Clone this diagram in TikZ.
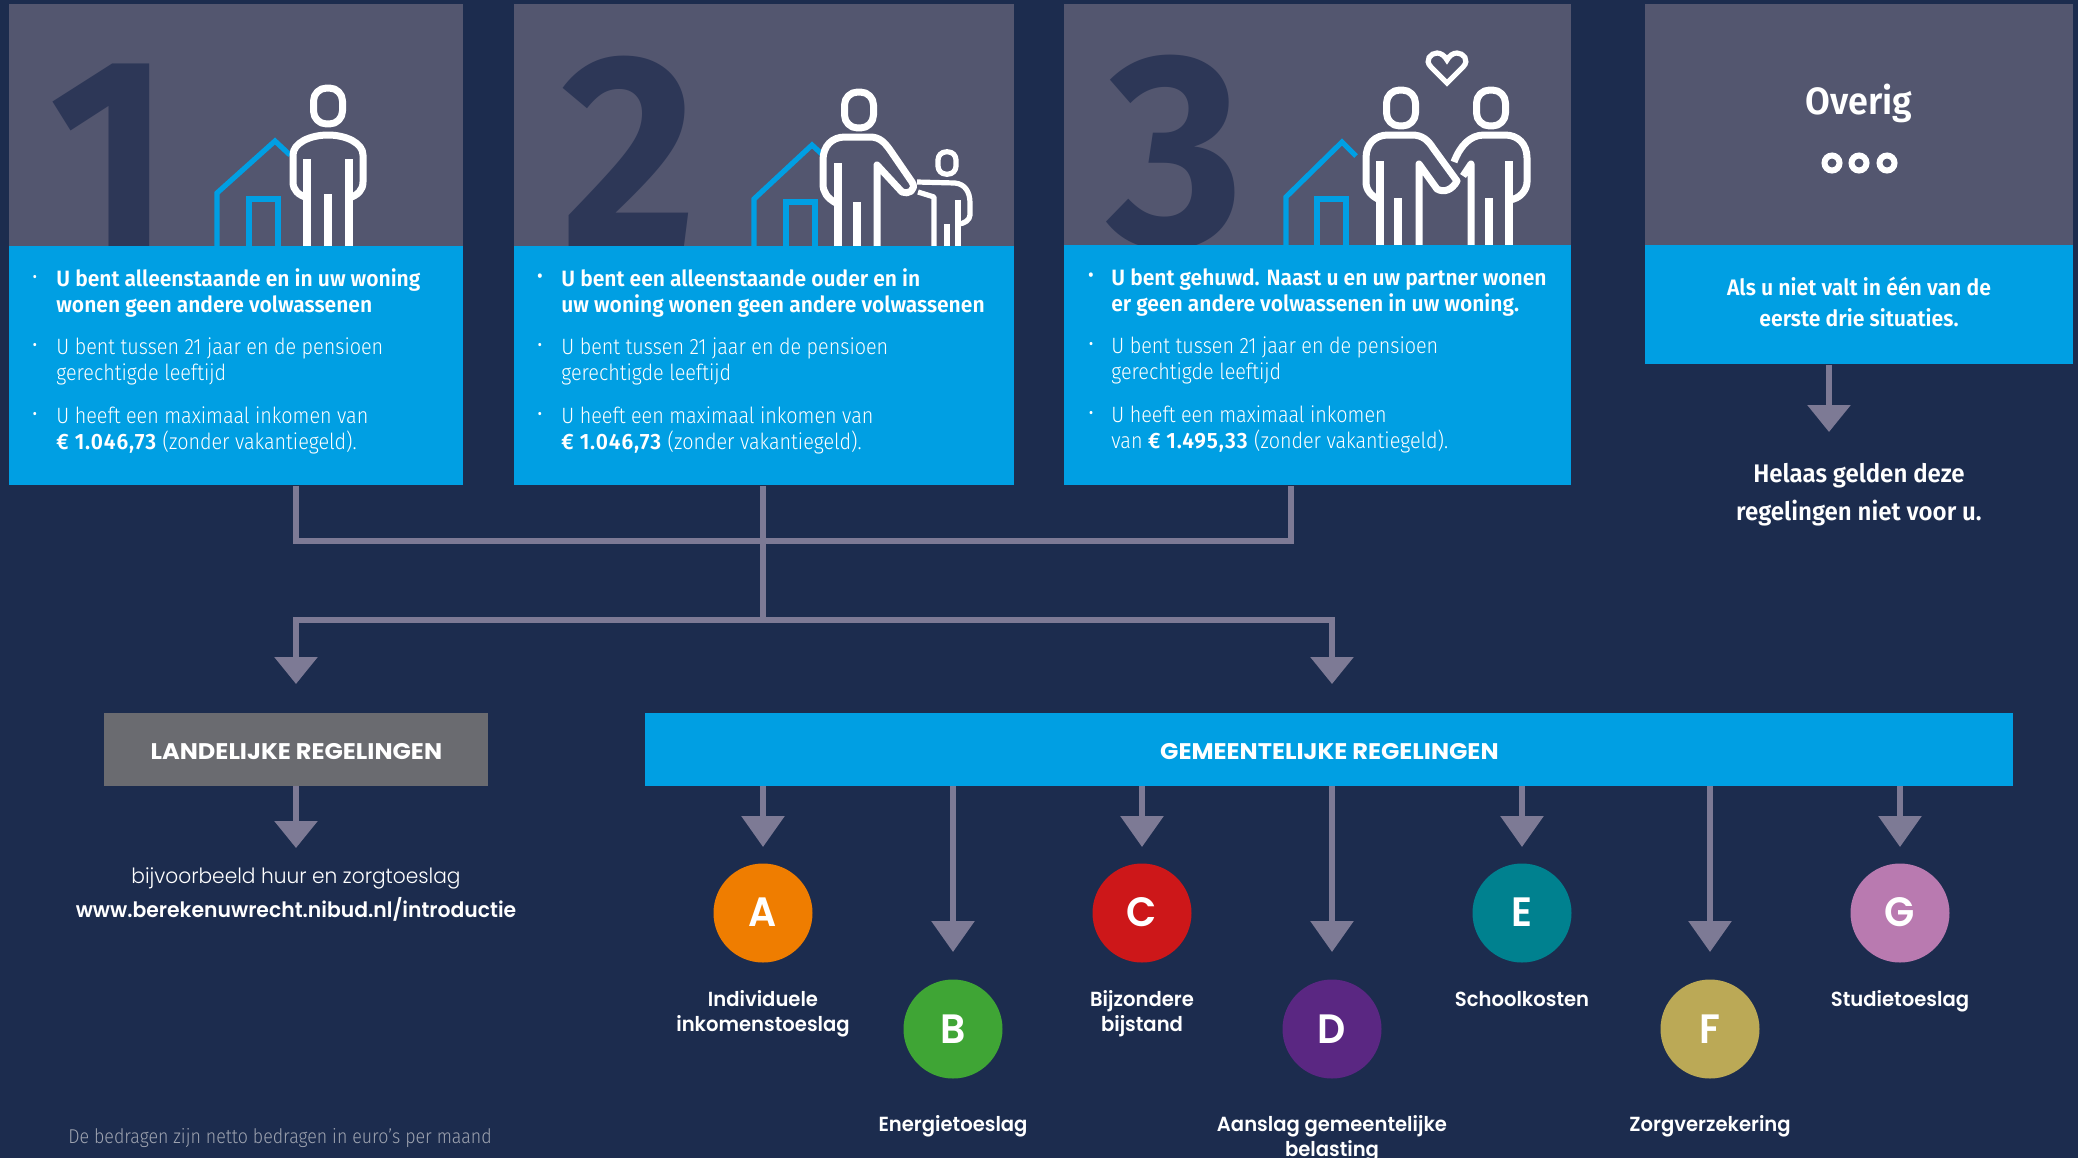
\documentclass[tikz,border=0pt]{standalone}
\usepackage{fontspec}
\usetikzlibrary{arrows.meta}
\setmainfont{Fira Sans Light}[FakeStretch=0.89,BoldFont={Fira Sans SemiBold},BoldFeatures={FakeStretch=0.947}]
\newfontfamily\digitf{Fira Sans Bold}[FakeStretch=0.95]
\newfontfamily\headf{Poppins}[FakeStretch=1.065]
\newfontfamily\labf{Poppins SemiBold}[FakeStretch=0.96]
\newfontfamily\litef{Poppins Light}[FakeStretch=0.96]
\newcommand\amt[1]{\textbf{\addfontfeature{LetterSpace=4}#1}}
\definecolor{bgc}{HTML}{1C2C4E}
\definecolor{panelc}{HTML}{53566F}
\definecolor{digitc}{HTML}{2D3757}
\definecolor{bluec}{HTML}{009FE3}
\definecolor{arrc}{HTML}{7D7A95}
\definecolor{greyc}{HTML}{6A6B70}
\definecolor{housec}{HTML}{009FE3}
\definecolor{notec}{HTML}{9EA3B0}
\tikzset{
 panel/.style={fill=panelc,draw=none,inner sep=0pt,anchor=north west},
 body/.style={fill=bluec,draw=none,inner sep=0pt,anchor=north west},
 digit/.style={text=digitc,anchor=base west,inner sep=0pt,font=\digitf\fontsize{138}{138}\selectfont},
 txt/.style={text=white,inner sep=0pt,anchor=base west,align=left,font=\fontsize{11.1}{13}\selectfont},
 dot/.style={text=white,inner sep=0pt,anchor=base,font=\fontsize{10.8}{13}\selectfont},
 bigdot/.style={text=white,inner sep=0pt,anchor=base,font=\fontsize{15}{13}\selectfont},
 house/.style={draw=housec,line width=2.6pt,line join=miter},
 man/.style={draw=white,line width=3.5pt,line join=round},
 kid/.style={draw=white,line width=2.6pt,line join=round},
 bar/.style={draw=white,line width=3.6pt},
 conn/.style={draw=arrc,line width=3pt},
 arr/.style={draw=arrc,line width=3pt,-{Triangle[length=15.5pt,width=21pt,fill=arrc]}},
 arrb/.style={draw=arrc,line width=3pt,-{Triangle[length=13.5pt,width=21pt,fill=arrc]}},
 boxhead/.style={text=white,inner sep=0pt,font=\headf\bfseries\fontsize{11.3}{13}\selectfont},
 badge/.style={circle,minimum size=49.5pt,inner sep=0pt},
 letter/.style={text=white,inner sep=0pt,anchor=base,font=\labf\fontsize{20.5}{22}\selectfont},
 lab/.style={text=white,inner sep=0pt,anchor=base,align=center,font=\labf\fontsize{10.2}{12.5}\selectfont},
}
\newcommand\headshape[4]{\draw[#4,rounded corners=#3*0.45pt] ({#1-#3},{#2-#3*1.24}) rectangle ({#1+#3},{#2+#3*1.24});}
\begin{document}
\begin{tikzpicture}[x=0.5pt,y=-0.5pt]
\useasboundingbox (0,0) rectangle (2078,1158);
\fill[bgc] (0,0) rectangle (2078,1158);
% grey panels
\node[panel,minimum width=227pt,minimum height=121pt] (g1) at (9,4) {};
\node[panel,minimum width=250pt,minimum height=121pt] (g2) at (514,4) {};
\node[panel,minimum width=253.5pt,minimum height=120.5pt] (g3) at (1064,4) {};
\node[panel,minimum width=214pt,minimum height=120.5pt] (g4) at (1645,4) {};
% digits
\node[digit] (d1) at (49,250) {1};
\node[digit] (d2) at (561,246) {2};
\node[digit] (d3) at (1107,245) {3};
% icon 1
\draw[house] (217,250) -- (217,193) -- (275,141) -- (290,155);
\draw[house] (249,250) -- (249,199) -- (278,199) -- (278,250);
\headshape{328}{106}{14.5}{man}
\draw[man] (308,198) .. controls (298,195) and (293,190) .. (293,182) -- (293,155) .. controls (293,143) and (310,135) .. (328,135) .. controls (346,135) and (363,143) .. (363,155) -- (363,182) .. controls (363,190) and (358,195) .. (349,198);
\draw[bar] (307,159) -- (307,250);
\draw[bar] (349,159) -- (349,250);
\draw[bar,line width=4pt] (328,194) -- (328,250);
% icon 2
\draw[house] (754,250) -- (754,199) -- (812,145) -- (825,157);
\draw[house] (786,250) -- (786,202) -- (815,202) -- (815,250);
\headshape{859}{110}{14.5}{man}
\draw[man] (836,203) .. controls (827,198) and (823,192) .. (823,184) -- (823,160) .. controls (823,146) and (832,137) .. (845,137) -- (870,137) .. controls (880,137) and (885,143) .. (890,150) -- (912,182) .. controls (917,190) and (908,195) .. (902,192) -- (877,165) -- (877,250);
\draw[bar] (838,163) -- (838,250);
\draw[bar,line width=4pt] (857,202) -- (857,250);
\headshape{947}{163}{9}{kid}
\draw[kid] (917,182) -- (955,183) .. controls (965,184) and (970,192) .. (970,203) -- (970,215) .. controls (970,220) and (964,224) .. (958,224);
\draw[kid] (918,192) -- (934,197) -- (934,250);
\draw[kid] (958,200) -- (958,250);
\draw[kid,line width=3pt] (947,224) -- (947,250);
% icon 3
\draw[house] (1286,250) -- (1286,197) -- (1342,142) -- (1356,156);
\draw[house] (1317,250) -- (1317,199) -- (1346,199) -- (1346,250);
\headshape{1401}{108}{14.5}{man}
\headshape{1491}{108}{14.5}{man}
\draw[man] (1380,200) .. controls (1371,196) and (1366,190) .. (1366,182) -- (1366,158) .. controls (1366,144) and (1375,135) .. (1388,135) -- (1412,135) .. controls (1422,135) and (1428,140) .. (1433,148) -- (1457,181) .. controls (1452,190) and (1444,193) .. (1437,189) -- (1419,164) -- (1419,250);
\draw[bar] (1380,161) -- (1380,250);
\draw[bar,line width=4pt] (1398,198) -- (1398,250);
\draw[man] (1454,162) .. controls (1460,146) and (1470,135) .. (1484,135) -- (1505,135) .. controls (1518,135) and (1527,144) .. (1527,158) -- (1527,182) .. controls (1527,190) and (1520,199) .. (1509,200);
\draw[man] (1463,176) -- (1471,164) -- (1471,250);
\draw[bar] (1509,161) -- (1509,250);
\draw[bar,line width=4pt] (1489,198) -- (1489,250);
\draw[man,line width=2.6pt,line join=miter] (1447,83) -- (1431,67) .. controls (1424,60) and (1431,53) .. (1437,53) .. controls (1441,53) and (1445,56) .. (1447,60) .. controls (1449,56) and (1453,53) .. (1457,53) .. controls (1463,53) and (1470,60) .. (1463,67) -- cycle;
% blue panels
\node[body,minimum width=227pt,minimum height=119.5pt] (b1) at (9,246) {};
\node[body,minimum width=250pt,minimum height=119.5pt] (b2) at (514,246) {};
\node[body,minimum width=253.5pt,minimum height=120pt] (b3) at (1064,245) {};
\node[body,minimum width=214pt,minimum height=59.5pt] (b4) at (1645,245) {};
% panel 1 text
\node[dot] (u1) at (35,284) {\textbullet};
\node[txt] (t1a) at (56,312) {\textbf{U bent alleenstaande en in uw woning}\\\textbf{wonen geen andere volwassenen}};
\node[dot] (u2) at (35,352) {\textbullet};
\node[txt] (t1b) at (56,380) {U bent tussen 21 jaar en de pensioen\\gerechtigde leeftijd};
\node[dot] (u3) at (35,421) {\textbullet};
\node[txt] (t1c) at (56,449) {U heeft een maximaal inkomen van\\\amt{€ 1.046,73} (zonder vakantiegeld).};
% panel 2 text
\node[bigdot] (v1) at (540,286) {\textbullet};
\node[txt] (t2a) at (561,312) {\textbf{U bent een alleenstaande ouder en in}\\\textbf{uw woning wonen geen andere volwassenen}};
\node[dot] (v2) at (540,352) {\textbullet};
\node[txt] (t2b) at (561,380) {U bent tussen 21 jaar en de pensioen\\gerechtigde leeftijd};
\node[dot] (v3) at (540,421) {\textbullet};
\node[txt] (t2c) at (561,449) {U heeft een maximaal inkomen van\\\amt{€ 1.046,73} (zonder vakantiegeld).};
% panel 3 text
\node[bigdot] (w1) at (1091,285) {\textbullet};
\node[txt] (t3a) at (1111,311) {\textbf{U bent gehuwd. Naast u en uw partner wonen}\\\textbf{er geen andere volwassenen in uw woning.}};
\node[dot] (w2) at (1091,351) {\textbullet};
\node[txt] (t3b) at (1111,379) {U bent tussen 21 jaar en de pensioen\\gerechtigde leeftijd};
\node[dot] (w3) at (1091,420) {\textbullet};
\node[txt] (t3c) at (1111,448) {U heeft een maximaal inkomen\\van \amt{€ 1.495,33} (zonder vakantiegeld).};
% panel 4
\node[txt,anchor=base,font=\bfseries\fontsize{19}{22}\selectfont] (ov) at (1859,114) {Overig};
\draw[white,line width=3pt] (1832,163) circle (7.5);
\draw[white,line width=3pt] (1859,163) circle (7.5);
\draw[white,line width=3pt] (1887,163) circle (7.5);
\node[txt,align=center,anchor=base,font=\bfseries\fontsize{11.2}{15.5}\selectfont] (als) at (1859,326) {Als u niet valt in één van de\\eerste drie situaties.};
\node[txt,align=center,anchor=base,font=\bfseries\fontsize{12.7}{19}\selectfont] (hel) at (1859,520) {Helaas gelden deze\\regelingen niet voor u.};
\coordinate (tipO) at (1829,432);
\draw[arrb] (tipO |- b4.south) -- (tipO);
% connectors top
\coordinate (busA) at (296,540.5);
\coordinate (busC) at (1291,540.5);
\coordinate (busB) at (763,540.5);
\coordinate (fork) at (763,620);
\coordinate (tipL) at (296,684);
\coordinate (tipG) at (1332,684);
\draw[conn] (busA |- b1.south) -- (busA) -- (busC) -- (busC |- b3.south);
\draw[conn] (busB |- b2.south) -- (fork);
\draw[arrb] (fork) -- (tipL |- fork) -- (tipL);
\draw[arrb] (fork) -- (tipG |- fork) -- (tipG);
% boxes
\node[fill=greyc,minimum width=192pt,minimum height=36.2pt,inner sep=0pt,anchor=north west,boxhead] (lan) at (104,713) {\raisebox{-5pt}[0pt][0pt]{LANDELIJKE REGELINGEN}};
\node[fill=bluec,minimum width=684pt,minimum height=36.2pt,inner sep=0pt,anchor=north west,boxhead] (gem) at (645,713) {\raisebox{-5pt}[0pt][0pt]{GEMEENTELIJKE REGELINGEN}};
\coordinate (tipT) at (296,848);
\draw[arrb] (tipT |- lan.south) -- (tipT);
\node[lab,font=\litef\fontsize{10.5}{12}\selectfont] (bij) at (296,883) {bijvoorbeeld huur en zorgtoeslag};
\node[lab,font=\labf\fontsize{10.6}{12}\selectfont] (url) at (296,917) {www.berekenuwrecht.nibud.nl/introductie};
\node[txt,text=notec,font=\fontsize{10}{12}\selectfont] (note) at (68,1143) {De bedragen zijn netto bedragen in euro’s per maand};
% badges
\node[badge,fill={rgb,255:red,239;green,125;blue,0}] (A) at (763,913) {};
\node[badge,fill={rgb,255:red,63;green,165;blue,53}] (B) at (953,1029) {};
\node[badge,fill={rgb,255:red,205;green,23;blue,25}] (C) at (1142,913) {};
\node[badge,fill={rgb,255:red,90;green,39;blue,130}] (D) at (1332,1029) {};
\node[badge,fill={rgb,255:red,0;green,129;blue,143}] (E) at (1522,913) {};
\node[badge,fill={rgb,255:red,187;green,169;blue,86}] (F) at (1710,1029) {};
\node[badge,fill={rgb,255:red,185;green,122;blue,176}] (G) at (1900,913) {};
\node[letter] (la) at (763,926) {A};
\node[letter] (lb) at (953,1043) {B};
\node[letter] (lc) at (1142,926) {C};
\node[letter] (ld) at (1332,1043) {D};
\node[letter] (le) at (1522,926) {E};
\node[letter] (lf) at (1710,1043) {F};
\node[letter] (lg) at (1900,926) {G};
\foreach \n/\y in {A/847,C/847,E/847,G/847,B/952,D/952,F/952}{
  \coordinate (tip\n) at (\n.north |- 0,\y);
  \draw[arr] (tip\n |- gem.south) -- (tip\n);
}
\node[lab] (na) at (763,1031) {Individuele\\inkomenstoeslag};
\node[lab] (nb) at (953,1131) {Energietoeslag};
\node[lab] (nc) at (1142,1031) {Bijzondere\\bijstand};
\node[lab] (nd) at (1332,1156) {Aanslag gemeentelijke\\belasting};
\node[lab] (ne) at (1522,1006) {Schoolkosten};
\node[lab] (nf) at (1710,1131) {Zorgverzekering};
\node[lab] (ng) at (1900,1006) {Studietoeslag};
\end{tikzpicture}
\end{document}
